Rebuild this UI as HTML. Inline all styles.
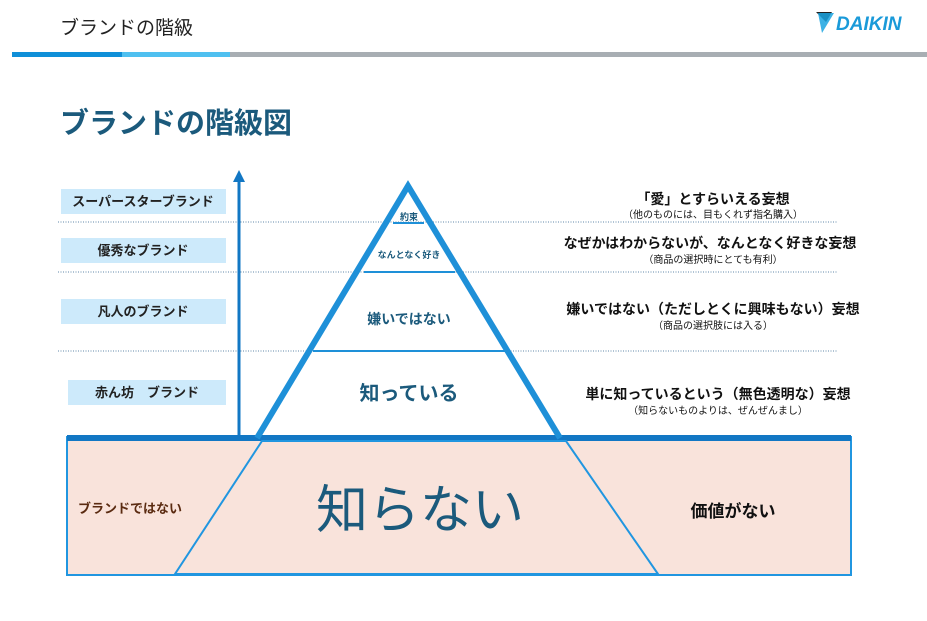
<!DOCTYPE html>
<html><head><meta charset="utf-8"><style>
body{margin:0;background:#fff;width:927px;height:616px;overflow:hidden;font-family:"Liberation Sans","Noto Sans CJK JP",sans-serif}
</style></head><body>
<svg width="927" height="616" xmlns="http://www.w3.org/2000/svg" font-family="Liberation Sans, Noto Sans CJK JP, sans-serif">
<text x="60" y="34" font-size="19" fill="#222">ブランドの階級</text>
<polygon points="816,12 832,12 826,22" fill="#222"/>
<polygon points="818,13 834,13 822,33" fill="#19a3e0" opacity="0.85"/>
<text x="836" y="30" font-size="19" font-weight="bold" font-style="italic" fill="#1a9ad9">DAIKIN</text>
<rect x="12" y="52" width="110" height="5" fill="#0f8fd8"/>
<rect x="122" y="52" width="108" height="5" fill="#4fc0f0"/>
<rect x="230" y="52" width="697" height="5" fill="#a8aeb3"/>
<text x="60" y="133" font-size="29" font-weight="bold" fill="#1b5a7c">ブランドの階級図</text>

<g stroke="#5f87a8" stroke-width="1" stroke-dasharray="1,1.5">
<line x1="58" y1="222" x2="838" y2="222"/><line x1="58" y1="272" x2="838" y2="272"/><line x1="58" y1="351" x2="838" y2="351"/>
</g>
<g fill="#cdeafb">
<rect x="61" y="189" width="165" height="25"/><rect x="61" y="238" width="165" height="25"/>
<rect x="61" y="299" width="165" height="25"/><rect x="68" y="380" width="158" height="25"/>
</g>
<g font-size="13" font-weight="bold" fill="#222" text-anchor="middle">
<text x="143" y="206">スーパースターブランド</text><text x="143" y="255">優秀なブランド</text>
<text x="143" y="316">凡人のブランド</text><text x="147" y="397">赤ん坊　ブランド</text>
</g>
<line x1="239" y1="180" x2="239" y2="437" stroke="#1277c4" stroke-width="3"/>
<polygon points="233,182 245,182 239,170" fill="#1277c4"/>

<rect x="67" y="437" width="784" height="138" fill="#f9e3db" stroke="#2196e0" stroke-width="2"/>
<rect x="67" y="435" width="784" height="6" fill="#1277c4"/>
<polygon points="262,441 566,441 658,574 175,574" fill="none" stroke="#2196e0" stroke-width="2"/>
<polyline points="257,438 408,186 560,438" fill="none" stroke="#1e90d8" stroke-width="6" stroke-linejoin="miter"/>
<g stroke="#1e90d8" stroke-width="2">
<line x1="393" y1="223" x2="424" y2="223"/><line x1="364" y1="272" x2="455" y2="272"/><line x1="313" y1="351" x2="506" y2="351"/>
</g>
<g fill="#1b5a7c" font-weight="bold" text-anchor="middle">
<text x="409" y="220" font-size="9">約束</text>
<text x="409" y="258" font-size="9">なんとなく好き</text>
<text x="409" y="324" font-size="14">嫌いではない</text>
<text x="409" y="400" font-size="20">知っている</text>
</g>
<text x="420" y="528" font-size="52" fill="#1b5a7c" text-anchor="middle">知らない</text>
<text x="130" y="513" font-size="13" font-weight="bold" fill="#5a2a10" text-anchor="middle">ブランドではない</text>
<text x="733" y="517" font-size="17" font-weight="bold" fill="#111" text-anchor="middle">価値がない</text>

<g text-anchor="middle" fill="#111">
<text x="713" y="204" font-size="14" font-weight="bold">「愛」とすらいえる妄想</text>
<text x="713" y="218" font-size="10">（他のものには、目もくれず指名購入）</text>
<text x="710" y="248" font-size="14" font-weight="bold">なぜかはわからないが、なんとなく好きな妄想</text>
<text x="713" y="263" font-size="10">（商品の選択時にとても有利）</text>
<text x="713" y="314" font-size="14" font-weight="bold">嫌いではない（ただしとくに興味もない）妄想</text>
<text x="713" y="329" font-size="10">（商品の選択肢には入る）</text>
<text x="718" y="399" font-size="14" font-weight="bold">単に知っているという（無色透明な）妄想</text>
<text x="718" y="414" font-size="10">（知らないものよりは、ぜんぜんまし）</text>
</g>
</svg>
</body></html>
